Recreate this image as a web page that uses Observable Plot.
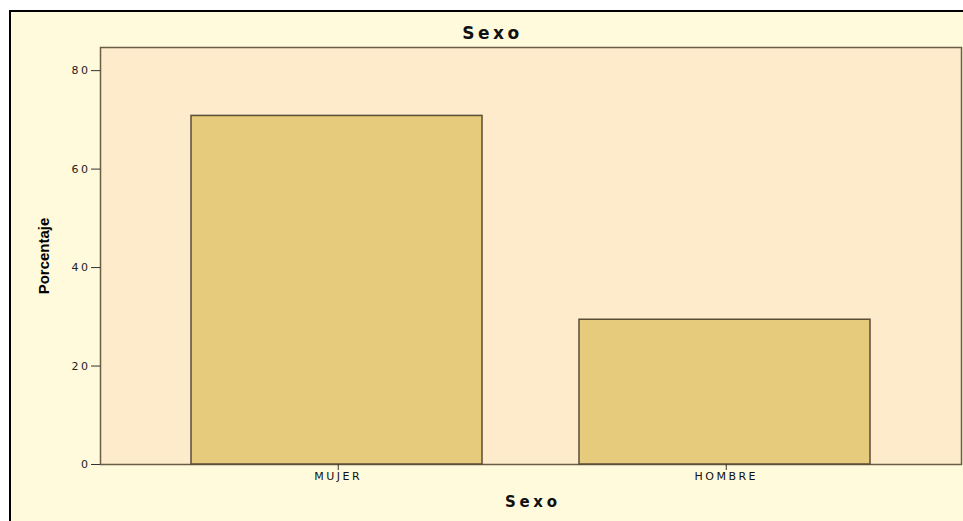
<!DOCTYPE html>
<html><head><meta charset="utf-8">
<script src="https://cdn.jsdelivr.net/npm/d3@7"></script>
<script src="https://cdn.jsdelivr.net/npm/@observablehq/plot@0.6"></script>
<style>
body{margin:0;background:#fff;width:963px;height:521px;overflow:hidden;position:relative;font-family:"DejaVu Sans"}
#frame{position:absolute;left:9px;top:10px;width:1000px;height:600px;background:#FFFADC;border-left:2px solid #000;border-top:2px solid #000;}
#chart{position:absolute;left:0;top:0}
#title{position:absolute;top:26px;left:0;width:985px;text-align:center;font:bold 17px "DejaVu Sans";line-height:15px;letter-spacing:3.5px;color:#111}
#chart g[aria-label="y-axis tick label"] text,
#chart g[aria-label="x-axis tick label"] text{letter-spacing:2.5px}
</style>
</head><body>
<div id="frame"></div>
<div id="title">Sexo</div>
<div id="chart"></div>
<script>
const categories = ["MUJER", "HOMBRE"];
const percentages = [70.8, 29.4];
const yTicks = [0, 20, 40, 60, 80];
const chartTitle = "Sexo";
const xLabel = "Sexo";
const yLabel = "Porcentaje";

const data = categories.map((c, i) => ({sexo: c, pct: percentages[i]}));

const chart = Plot.plot({
  width: 963, height: 521,
  marginLeft: 100, marginRight: 2, marginTop: 47, marginBottom: 57,
  style: {background: "transparent", fontFamily: "DejaVu Sans", fontSize: "11px", color: "#222"},
  x: {domain: categories, paddingInner: 0.25, paddingOuter: 0.233, label: null, axis: null},
  y: {domain: [0, 84.7], label: null, axis: null},
  marks: [
    Plot.frame({fill: "#FDEBCC", stroke: "#6b5d45", strokeWidth: 1.5}),
    Plot.barY(data, {x: "sexo", y: "pct", fill: "#E5CB7B", stroke: "#5a4c35", strokeWidth: 1.5}),
    Plot.axisY({ticks: yTicks, tickSize: 9, tickPadding: 1, stroke: "#333", fill: "#222", fontSize: 11, label: null}),
    Plot.axisX({tickSize: 6, tickPadding: 2, stroke: "#333", fill: "#111", fontSize: 11, dx: 1.25, label: null}),
    Plot.text([yLabel], {frameAnchor: "left", textAnchor: "middle", lineAnchor: "middle", dx: -56, rotate: -90, fontWeight: "bold", fontSize: 15, fontFamily: "Liberation Sans", fill: "#000"}),
    Plot.text([xLabel], {frameAnchor: "bottom", dy: 42, dx: 1.85, fontWeight: "bold", fontSize: 15, fontFamily: "DejaVu Sans", fill: "#111", ariaDescription: "xlabel"})
  ]
});
d3.select(chart).selectAll('g[aria-description="xlabel"] text').style("letter-spacing", "3.7px");
document.getElementById("chart").append(chart);
document.getElementById("title").textContent = chartTitle;
</script>
</body></html>
